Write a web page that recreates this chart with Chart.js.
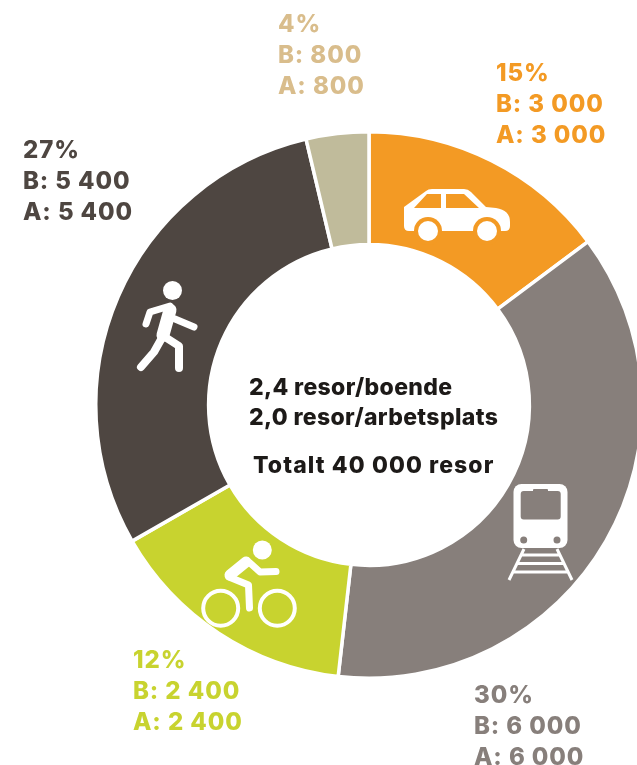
<!DOCTYPE html>
<html>
<head>
<meta charset="utf-8">
<style>
  html, body { margin: 0; padding: 0; background: #fff; overflow: hidden; }
  #wrap { position: relative; width: 637px; height: 765px; overflow: hidden; }
  #modeChart { position: absolute; left: 0; top: 0; }
</style>
</head>
<body>
<div id="wrap"><canvas id="modeChart" width="760" height="765"></canvas></div>
<script src="https://cdn.jsdelivr.net/npm/chart.js@4"></script>
<script>
// Data - slice sizes are read off the ring itself, they don't follow the printed percentages
const modes = ['Bil', 'Kollektivtrafik', 'Cykel', 'Gång', 'Övrigt'];
const sliceShares = [14.8, 37.0, 14.9, 29.6, 3.7];
const percentLabels = ['15%', '30%', '12%', '27%', '4%'];
const boendeLabels = ['B: 3 000', 'B: 6 000', 'B: 2 400', 'B: 5 400', 'B: 800'];
const arbetsLabels = ['A: 3 000', 'A: 6 000', 'A: 2 400', 'A: 5 400', 'A: 800'];
const sliceColors = ['#f39a24', '#877f7b', '#c8d32f', '#4e4641', '#c0bb9b'];
const labelColors = ['#f39a24', '#877f7b', '#c8d32f', '#4e4641', '#d9bd8c'];
const centerLines = ['2,4 resor/boende', '2,0 resor/arbetsplats', 'Totalt 40 000 resor'];

// where each text block starts (left edge, first baseline)
const labelSpots = [[496, 81], [474, 703], [133, 668], [23, 158], [278, 32]];
const centerSpots = [[249, 395, '0.35px'], [249, 425, '0.35px'], [253, 473, '1.1px']];
const FONT = 'Inter, "Noto Sans", sans-serif';

function drawCar(c) {
    c.fillStyle = '#fff';
    c.beginPath();
    c.moveTo(404, 207);
    c.lineTo(426, 191);
    c.quadraticCurveTo(428, 189, 432, 189);
    c.lineTo(464, 189);
    c.quadraticCurveTo(468, 189, 471, 192);
    c.lineTo(486, 207);
    c.lineTo(496, 208);
    c.quadraticCurveTo(510, 210, 510, 222);
    c.lineTo(510, 226);
    c.quadraticCurveTo(510, 231, 505, 231);
    c.lineTo(409, 231);
    c.quadraticCurveTo(404, 231, 404, 226);
    c.closePath();
    c.fill();
    c.fillStyle = '#f39a24';
    c.beginPath();
    c.moveTo(414, 208); c.lineTo(427, 194); c.lineTo(441, 194); c.lineTo(441, 208); c.closePath();
    c.moveTo(446, 208); c.lineTo(446, 194); c.lineTo(464, 194); c.lineTo(479, 208); c.closePath();
    c.fill();
    [428, 487].forEach(x => {
        c.fillStyle = '#f39a24';
        c.beginPath(); c.arc(x, 231, 14, 0, Math.PI * 2); c.fill();
        c.fillStyle = '#fff';
        c.beginPath(); c.arc(x, 231, 10, 0, Math.PI * 2); c.fill();
    });
}

function drawWalker(c) {
    c.fillStyle = '#fff';
    c.strokeStyle = '#fff';
    c.lineCap = 'round';
    c.lineJoin = 'round';
    c.beginPath(); c.arc(172.5, 290.5, 9.5, 0, Math.PI * 2); c.fill();
    c.lineWidth = 13;
    c.beginPath(); c.moveTo(170, 310); c.lineTo(163, 335); c.stroke();
    c.lineWidth = 7;
    c.beginPath(); c.moveTo(170, 306); c.lineTo(150, 312); c.lineTo(146, 324); c.stroke();
    c.beginPath(); c.moveTo(175, 319); c.lineTo(194, 327); c.stroke();
    c.lineWidth = 8;
    c.beginPath(); c.moveTo(163, 336); c.lineTo(154, 352); c.lineTo(141, 367); c.stroke();
    c.beginPath(); c.moveTo(165, 337); c.lineTo(179, 346); c.lineTo(179, 368); c.stroke();
}

function drawCyclist(c) {
    c.strokeStyle = '#fff';
    c.fillStyle = '#fff';
    c.lineCap = 'round';
    c.lineJoin = 'round';
    c.lineWidth = 4;
    c.beginPath(); c.arc(220.7, 608.3, 17.5, 0, Math.PI * 2); c.stroke();
    c.beginPath(); c.arc(277.3, 608.3, 17.5, 0, Math.PI * 2); c.stroke();
    c.beginPath(); c.arc(262.3, 550, 9.5, 0, Math.PI * 2); c.fill();
    c.lineWidth = 11;
    c.beginPath(); c.moveTo(246, 562); c.lineTo(230, 575); c.stroke();
    c.lineWidth = 7;
    c.beginPath(); c.moveTo(250, 563); c.lineTo(260, 572); c.lineTo(276, 571.5); c.stroke();
    c.beginPath(); c.moveTo(229, 577); c.lineTo(248.5, 585); c.lineTo(249.5, 608); c.stroke();
}

function drawTrain(c) {
    c.fillStyle = '#fff';
    c.strokeStyle = '#fff';
    c.beginPath(); c.roundRect(513.5, 484, 54, 64, 8); c.fill();
    c.fillStyle = '#877f7b';
    c.beginPath();
    c.roundRect(520.7, 491, 40, 28.5, 3);
    c.roundRect(533, 489, 15, 4, 1);
    c.fill();
    c.beginPath();
    c.arc(523.7, 540, 3.5, 0, Math.PI * 2);
    c.arc(557, 540, 3.5, 0, Math.PI * 2);
    c.fill();
    c.lineWidth = 3;
    c.beginPath();
    c.moveTo(524, 549); c.lineTo(509, 580);
    c.moveTo(557, 549); c.lineTo(572, 580);
    c.moveTo(521, 555); c.lineTo(560, 555);
    c.moveTo(517, 563.5); c.lineTo(564, 563.5);
    c.moveTo(513, 572); c.lineTo(568, 572);
    c.stroke();
}

const overlayPlugin = {
    id: 'overlay',
    afterDraw(chart) {
        const c = chart.ctx;
        [drawCar, drawTrain, drawCyclist, drawWalker].forEach(fn => {
            c.save(); fn(c); c.restore();
        });

        c.save();
        c.textAlign = 'left';
        c.textBaseline = 'alphabetic';
        c.font = '800 24px ' + FONT;
        c.letterSpacing = '0.9px';
        labelSpots.forEach(([x, y], i) => {
            c.fillStyle = labelColors[i];
            c.fillText(percentLabels[i], x, y);
            c.fillText(boendeLabels[i], x, y + 31);
            c.fillText(arbetsLabels[i], x, y + 62);
        });
        c.fillStyle = '#1d1a18';
        c.font = '800 23px ' + FONT;
        centerSpots.forEach(([x, y, spacing], i) => {
            c.letterSpacing = spacing;
            c.fillText(centerLines[i], x, y);
        });
        c.restore();
    }
};

new Chart(document.getElementById('modeChart'), {
    type: 'doughnut',
    data: {
        labels: modes,
        datasets: [{
            data: sliceShares,
            backgroundColor: sliceColors,
            borderColor: '#fff',
            borderWidth: 3.5
        }]
    },
    options: {
        responsive: false,
        animation: false,
        cutout: '58.7%',
        layout: { padding: { left: 94, right: 116, top: 130, bottom: 85 } },
        plugins: { legend: { display: false }, tooltip: { enabled: false } }
    },
    plugins: [overlayPlugin]
});
</script>
</body>
</html>
